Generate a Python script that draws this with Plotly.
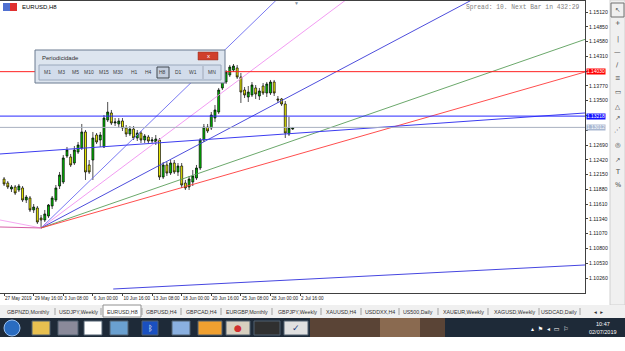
import plotly.graph_objects as go

# ---------------- data ----------------
bar_index = list(range(79))
opens = [1.12069,1.11996,1.11886,1.11923,1.11868,1.11905,1.11685,1.11722,1.11503,1.11539,
         1.11357,1.11320,1.11393,1.11576,1.11685,1.11941,1.12014,1.12489,1.12471,1.12361,
         1.12562,1.12635,1.12928,1.12325,1.12416,1.12873,1.12782,1.12654,1.13147,1.13275,
         1.13092,1.13074,1.13129,1.13001,1.12891,1.12982,1.12818,1.12909,1.12782,1.12836,
         1.12763,1.12745,1.12782,1.12105,1.12325,1.12178,1.12361,1.12197,1.12306,1.11996,
         1.11923,1.12014,1.12087,1.12270,1.12782,1.13019,1.13001,1.13183,1.13293,1.13732,
         1.13841,1.13969,1.14060,1.14097,1.13932,1.13695,1.13567,1.13604,1.13732,1.13585,
         1.13768,1.13640,1.13640,1.13841,1.13531,1.13531,1.13439,1.12891,1.12982]
highs = [1.12105,1.12032,1.11959,1.11959,1.11978,1.11941,1.11777,1.11758,1.11612,1.11576,
         1.11411,1.11503,1.11612,1.11758,1.11959,1.12197,1.12507,1.12654,1.12526,1.12672,
         1.12745,1.13074,1.12964,1.12416,1.12928,1.12909,1.12928,1.13238,1.13476,1.13330,
         1.13183,1.13183,1.13183,1.13055,1.13037,1.13037,1.12964,1.12946,1.12891,1.12873,
         1.12836,1.12873,1.12818,1.12379,1.12379,1.12416,1.12416,1.12361,1.12361,1.12051,
         1.12124,1.12233,1.12325,1.12818,1.13074,1.13074,1.13293,1.13421,1.13732,1.13932,
         1.14060,1.14152,1.14170,1.14152,1.14006,1.13750,1.13768,1.13841,1.13786,1.13732,
         1.13823,1.13841,1.13878,1.13878,1.13585,1.13549,1.13494,1.13202,1.13019]
lows = [1.11941,1.11886,1.11831,1.11777,1.11831,1.11649,1.11630,1.11466,1.11448,1.11247,
        1.11174,1.11283,1.11357,1.11521,1.11649,1.11886,1.11978,1.12453,1.12288,1.12325,
        1.12526,1.12599,1.12051,1.12160,1.12051,1.12708,1.12654,1.12635,1.13110,1.13055,
        1.13037,1.13001,1.12946,1.12836,1.12855,1.12782,1.12763,1.12727,1.12727,1.12708,
        1.12727,1.12690,1.12051,1.12069,1.12124,1.12142,1.12160,1.12124,1.11905,1.11868,
        1.11868,1.11941,1.12051,1.12233,1.12745,1.12909,1.12964,1.13110,1.13257,1.13695,
        1.13805,1.13932,1.14024,1.13896,1.13458,1.13549,1.13476,1.13567,1.13531,1.13512,
        1.13604,1.13567,1.13604,1.13585,1.13458,1.13403,1.12818,1.12855,1.12964]
closes = [1.11978,1.11923,1.11923,1.11813,1.11941,1.11685,1.11740,1.11503,1.11557,1.11283,
          1.11320,1.11430,1.11594,1.11722,1.11905,1.12142,1.12453,1.12599,1.12325,1.12599,
          1.12690,1.12928,1.12197,1.12197,1.12818,1.12745,1.12873,1.13183,1.13293,1.13092,
          1.13110,1.13129,1.13001,1.12891,1.12982,1.12818,1.12909,1.12782,1.12855,1.12763,
          1.12782,1.12800,1.12105,1.12325,1.12178,1.12361,1.12197,1.12306,1.11959,1.11905,
          1.12069,1.12124,1.12270,1.12782,1.13019,1.12946,1.13238,1.13330,1.13695,1.13878,
          1.14024,1.14115,1.14133,1.13932,1.13658,1.13604,1.13658,1.13786,1.13622,1.13677,
          1.13640,1.13805,1.13841,1.13640,1.13512,1.13439,1.12909,1.13001,1.13001]

date_tick_index = [0, 8, 16, 24, 32, 40, 48, 56, 64, 72, 80]
date_tick_text = ["27 May 2019", "29 May 16:00", "3 Jun 08:00", "6 Jun 00:00", "10 Jun 16:00",
                  "13 Jun 08:00", "18 Jun 00:00", "20 Jun 16:00", "25 Jun 08:00",
                  "28 Jun 00:00", "2 Jul 16:00"]
price_ticks = [1.10260, 1.10530, 1.10800, 1.11070, 1.11340, 1.11610, 1.11880, 1.12150,
               1.12420, 1.12690, 1.12960, 1.13230, 1.13500, 1.13770, 1.14040, 1.14310,
               1.14580, 1.14850, 1.15120]
hidden_ticks = [1.12960, 1.13230, 1.14040]

level_prices = [1.14030, 1.13218, 1.13012]
level_labels = ["1.14030", "1.13218", "1.13012"]

fan_origin_index = 10
fan_origin_price = 1.11174
fan_end_index = 157
fan_end_prices = [1.20802, 1.18610, 1.16435, 1.14620, 1.14024]
fan_left_index = -1.1
fan_left_prices = [1.11320, 1.11192]

trend_upper = [-1.1, 1.12526, 157, 1.13275]
trend_lower = [29.5, 1.10059, 157, 1.10498]

tabs = ["GBPNZD,Monthly", "USDJPY,Weekly", "EURUSD,H8", "GBPUSD,H4", "GBPCAD,H4",
        "EURGBP,Monthly", "GBPJPY,Weekly", "XAUUSD,H4", "USDDXX,H4", "US500,Daily",
        "XAUEUR,Weekly", "XAGUSD,Weekly", "USDCAD,Daily"]
periods = ["M1", "M3", "M5", "M10", "M15", "M30", "H1", "H4", "H8", "D1", "W1", "MN"]

# ---------------- figure ----------------
W, H = 625, 351
def px(x): return x / W
def py(y): return 1 - y / H

def label(x, y, text, size, color, family="Liberation Sans", xanchor="center"):
    return dict(x=px(x), y=py(y), xref="paper", yref="paper", text=text, showarrow=False,
                xanchor=xanchor, yanchor="middle",
                font=dict(size=size, color=color, family=family))

fig = go.Figure()

fan_colors = ["#6b6bf0", "#f090f0", "#3a3ad8", "#5a9e5a", "#ff3a3a"]
for p, c in zip(fan_end_prices, fan_colors):
    fig.add_trace(go.Scatter(x=[fan_origin_index, fan_end_index], y=[fan_origin_price, p],
                             mode="lines", line=dict(color=c, width=0.9), hoverinfo="skip"))
for p, c in zip(fan_left_prices, ["#f4a0f0", "#d04a9a"]):
    fig.add_trace(go.Scatter(x=[fan_left_index, fan_origin_index], y=[p, fan_origin_price],
                             mode="lines", line=dict(color=c, width=0.9), hoverinfo="skip"))

for t, c in [(trend_upper, "#3c3cf0"), (trend_lower, "#4646e0")]:
    fig.add_trace(go.Scatter(x=[t[0], t[2]], y=[t[1], t[3]], mode="lines",
                             line=dict(color=c, width=1), hoverinfo="skip"))

for p, c in zip(level_prices, ["#ff2020", "#2828ff", "#a8b0c0"]):
    fig.add_trace(go.Scatter(x=[-2, 158], y=[p, p], mode="lines",
                             line=dict(color=c, width=1), hoverinfo="skip"))

fig.add_trace(go.Candlestick(
    x=bar_index, open=opens, high=highs, low=lows, close=closes,
    increasing=dict(fillcolor="#00c000", line=dict(color="#000000", width=0.7)),
    decreasing=dict(fillcolor="#f0f000", line=dict(color="#000000", width=0.7)),
    whiskerwidth=0, hoverinfo="skip"))

shapes = []
ann = []

for p, lab, bg in zip(level_prices, level_labels, ["#ff0000", "#1010ff", "#a9b8d2"]):
    ann.append(dict(x=1.0, xref="x domain", y=p, yref="y", text=lab, showarrow=False,
                    xanchor="left", yanchor="middle", bgcolor=bg, borderpad=0,
                    font=dict(size=4.9, color="white", family="Liberation Sans"), xshift=1))

ann.append(label(20, 7, "EURUSD,H8", 6, "#000", xanchor="left"))
ann.append(label(582, 7, "Spread: 10. Next Bar in 432:29", 6.3, "#808080",
                 family="Liberation Mono", xanchor="right"))
ann.append(label(296, 3, "▼", 5, "#8090a0"))
shapes.append(dict(type="rect", xref="paper", yref="paper", x0=px(3), x1=px(10),
                   y0=py(11), y1=py(3), fillcolor="#5070d0", line=dict(width=0)))
shapes.append(dict(type="rect", xref="paper", yref="paper", x0=px(10), x1=px(17),
                   y0=py(11), y1=py(3), fillcolor="#e03030", line=dict(width=0)))

# Periodicidade dialog
shapes.append(dict(type="rect", xref="paper", yref="paper", x0=px(35), x1=px(225),
                   y0=py(83), y1=py(50), fillcolor="#dde5ef",
                   line=dict(color="#6a7a90", width=1), layer="above"))
shapes.append(dict(type="rect", xref="paper", yref="paper", x0=px(39), x1=px(221),
                   y0=py(80), y1=py(65), fillcolor="#d2dceb",
                   line=dict(color="#9aa8bc", width=1), layer="above"))
shapes.append(dict(type="rect", xref="paper", yref="paper", x0=px(198), x1=px(218),
                   y0=py(60), y1=py(52), fillcolor="#d0402c",
                   line=dict(color="#903020", width=0.5), layer="above"))
ann.append(label(208, 56, "x", 6, "white"))
ann.append(label(40, 58, "Periodicidade", 6, "#303030", xanchor="left"))
period_x = [47, 61, 75, 89, 104, 118, 134, 148, 163, 178, 193, 212]
for lab, xx in zip(periods, period_x):
    if lab == "H8":
        shapes.append(dict(type="rect", xref="paper", yref="paper", x0=px(xx - 6),
                           x1=px(xx + 6), y0=py(78), y1=py(67), fillcolor="#c4cede",
                           line=dict(color="#404850", width=1), layer="above"))
    ann.append(label(xx, 72.5, lab, 5, "#404040"))
shapes.append(dict(type="line", xref="paper", yref="paper", x0=px(203), x1=px(203),
                   y0=py(79), y1=py(66), line=dict(color="#a0a8b8", width=1), layer="above"))

# right toolbar
shapes.append(dict(type="rect", xref="paper", yref="paper", x0=px(610), x1=px(625),
                   y0=py(305), y1=py(0), fillcolor="#f0f0f0",
                   line=dict(color="#d0d0d0", width=1)))
tool_icons = ["↖", "+", "|", "—", "/", "≡", "▭", "△", "↗", "⋰", "◎", "↗", "T", "%"]
tool_y = [10, 23, 39, 52, 65, 78, 92, 107, 118, 130, 145, 160, 172, 185]
for ic, ty in zip(tool_icons, tool_y):
    ann.append(label(617.5, ty, ic, 6.5, "#404040", family="DejaVu Sans"))
shapes.append(dict(type="rect", xref="paper", yref="paper", x0=px(611), x1=px(624),
                   y0=py(17), y1=py(3), fillcolor="rgba(0,0,0,0)",
                   line=dict(color="#707070", width=1)))

# tab bar
shapes.append(dict(type="rect", xref="paper", yref="paper", x0=0, x1=1,
                   y0=py(318), y1=py(305), fillcolor="#f0f0f0", line=dict(width=0)))
tab_x = [28, 78, 122, 161, 201, 247, 297, 341, 380, 418, 463, 514, 559]
for t, xx in zip(tabs, tab_x):
    if t == "EURUSD,H8":
        shapes.append(dict(type="rect", xref="paper", yref="paper", x0=px(103), x1=px(141),
                           y0=py(317), y1=py(305), fillcolor="white",
                           line=dict(color="#909090", width=1)))
    ann.append(label(xx, 311.5, t, 5.3, "#303030"))
for xx in [55, 101, 142, 181, 221, 272, 321, 361, 399, 438, 488, 539, 580]:
    shapes.append(dict(type="line", xref="paper", yref="paper", x0=px(xx), x1=px(xx),
                       y0=py(315), y1=py(308), line=dict(color="#a0a0a0", width=1)))
ann.append(label(598, 311.5, "◂  ▸", 5.5, "#303030", family="DejaVu Sans"))

# taskbar
shapes.append(dict(type="rect", xref="paper", yref="paper", x0=0, x1=1,
                   y0=py(337), y1=py(318), fillcolor="#1e2a38", line=dict(width=0)))
shapes.append(dict(type="rect", xref="paper", yref="paper", x0=px(310), x1=px(445),
                   y0=py(337), y1=py(318), fillcolor="#5a4436", line=dict(width=0)))
shapes.append(dict(type="rect", xref="paper", yref="paper", x0=px(380), x1=px(420),
                   y0=py(337), y1=py(318), fillcolor="#8a6a50", line=dict(width=0)))
shapes.append(dict(type="circle", xref="paper", yref="paper", x0=px(4), x1=px(20),
                   y0=py(336), y1=py(320), fillcolor="#2a6cc0",
                   line=dict(color="#9ac0f0", width=1)))
icon_specs = [(32, 50, "#e8c050"), (58, 78, "#8a8a9a"), (84, 102, "#ffffff"),
              (110, 128, "#6aa0d0"), (142, 158, "#1a50c0"), (172, 190, "#8ab0e0"),
              (198, 222, "#f0a030"), (226, 250, "#d8d0c0"), (254, 280, "#303030"),
              (284, 308, "#e0e0e0")]
for x0, x1, c in icon_specs:
    shapes.append(dict(type="rect", xref="paper", yref="paper", x0=px(x0), x1=px(x1),
                       y0=py(335), y1=py(321), fillcolor=c,
                       line=dict(color="#506070", width=1)))
ann.append(label(238, 328, "●", 9, "#d03030", family="DejaVu Sans"))
ann.append(label(296, 328, "✓", 9, "#1a3a80", family="DejaVu Sans"))
ann.append(label(150, 328, "ᛒ", 8, "white", family="DejaVu Sans"))
ann.append(label(550, 328, "▴  ⚑  ◂  ▭  ⚐", 6, "white", family="DejaVu Sans"))
ann.append(label(603, 324, "10:47", 5.5, "white"))
ann.append(label(603, 332, "02/07/2019", 5.5, "white"))

fig.update_layout(
    width=W, height=H, margin=dict(l=0, r=0, t=0, b=0),
    paper_bgcolor="white", plot_bgcolor="white", showlegend=False,
    shapes=shapes, annotations=ann, boxgap=0.25,
    xaxis=dict(domain=[0, 585 / W], range=[-1.1, 157], showgrid=False, zeroline=False,
               rangeslider=dict(visible=False), showline=True, mirror=True,
               linecolor="#404040", linewidth=1, tickmode="array",
               tickvals=date_tick_index, ticktext=date_tick_text, ticks="outside",
               ticklen=2, tickcolor="#404040", ticklabelposition="outside right",
               tickangle=0,
               tickfont=dict(size=4.6, color="#202020", family="Liberation Sans"),
               ticklabelstandoff=0),
    yaxis=dict(domain=[(H - 293) / H, (H - 1) / H], range=[1.09986, 1.15321],
               side="right", showgrid=False, zeroline=False, showline=True, mirror=True,
               linecolor="#404040", linewidth=1, tickmode="array", tickvals=price_ticks,
               ticktext=["" if v in hidden_ticks else f"{v:.5f}" for v in price_ticks],
               ticks="outside", ticklen=2, tickcolor="#404040",
               tickfont=dict(size=5.2, color="#202020", family="Liberation Sans")),
)

fig.write_html("out.html")
